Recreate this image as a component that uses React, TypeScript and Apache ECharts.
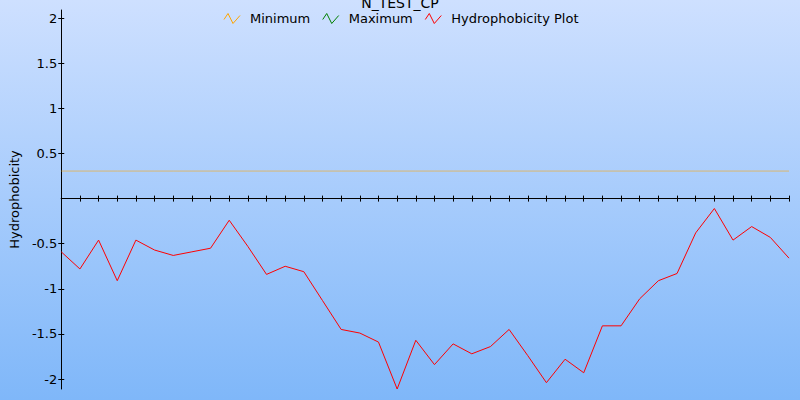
import React, { useEffect, useRef } from "react";
import * as echarts from "echarts";

const titleText = "N_TEST_CP";
const yAxisName = "Hydrophobicity";
const seriesNames = ["Minimum", "Maximum", "Hydrophobicity Plot"];
const seriesColors = ["#FFA500", "#008000", "#FF0000"];
const positions = [
  "1", "2", "3", "4", "5", "6", "7", "8", "9", "10",
  "11", "12", "13", "14", "15", "16", "17", "18", "19", "20",
  "21", "22", "23", "24", "25", "26", "27", "28", "29", "30",
  "31", "32", "33", "34", "35", "36", "37", "38", "39", "40",
];
const hydrophobicity = [
  -0.59, -0.78, -0.46, -0.91, -0.46, -0.57, -0.63, -0.59, -0.55, -0.24,
  -0.53, -0.84, -0.75, -0.81, -1.13, -1.45, -1.49, -1.59, -2.11, -1.57,
  -1.84, -1.61, -1.72, -1.64, -1.45, -1.74, -2.04, -1.78, -1.93, -1.41,
  -1.41, -1.11, -0.91, -0.83, -0.38, -0.11, -0.46, -0.31, -0.43, -0.66,
];
const minimumValue = 0.305;
const maximumValues: number[] = [];
const yTickValues = [-2, -1.5, -1, -0.5, 0.5, 1, 1.5, 2];
const yMin = -2.11;
const yMax = 2.09;

const FONT = "DejaVu Sans";
const ICON = "path://M0,6 L4,0 L9,10 L16,2 M21,5";

export default function App() {
  const ref = useRef<HTMLDivElement>(null);
  useEffect(() => {
    if (!ref.current) return;
    const chart = echarts.init(ref.current, null, { renderer: "svg" });
    const minimumData = positions.map(() => minimumValue);
    const axisLineStyle = { color: "#000", width: 1 };
    chart.setOption({
      animation: false,
      backgroundColor: {
        type: "linear",
        x: 0,
        y: 0,
        x2: 0,
        y2: 1,
        colorStops: [
          { offset: 0, color: "#CEE0FF" },
          { offset: 1, color: "#7FB7F9" },
        ],
      },
      title: {
        text: titleText,
        left: "center",
        top: -4,
        padding: 0,
        textStyle: { fontFamily: FONT, fontSize: 14, fontWeight: "normal", color: "#000" },
      },
      legend: {
        top: 11,
        left: "center",
        padding: 0,
        itemGap: 10,
        itemWidth: 21,
        itemHeight: 10,
        textStyle: { fontFamily: FONT, fontSize: 13, color: "#000" },
        data: seriesNames.map((name, i) => ({
          name,
          icon: ICON,
          itemStyle: { color: "none", borderColor: seriesColors[i], borderWidth: 1 },
        })),
      },
      grid: { left: 59, right: 11, top: 10, bottom: 11, containLabel: false },
      xAxis: [
        {
          type: "category",
          data: positions,
          boundaryGap: false,
          position: "bottom",
          axisLine: { show: true, onZero: true, onZeroAxisIndex: 0, lineStyle: axisLineStyle },
          axisTick: { show: true, interval: 0, length: 3, lineStyle: axisLineStyle },
          axisLabel: { show: false },
          splitLine: { show: false },
        },
        {
          type: "category",
          data: positions,
          boundaryGap: false,
          position: "top",
          axisLine: { show: true, onZero: true, onZeroAxisIndex: 0, lineStyle: axisLineStyle },
          axisTick: { show: true, interval: 0, length: 3, lineStyle: axisLineStyle },
          axisLabel: { show: false },
          splitLine: { show: false },
        },
      ],
      yAxis: [
        {
          type: "value",
          min: yMin,
          max: yMax,
          position: "left",
          name: yAxisName,
          nameLocation: "middle",
          nameGap: 38,
          nameTextStyle: { fontFamily: FONT, fontSize: 13, color: "#000" },
          axisLine: { show: true, onZero: false, lineStyle: axisLineStyle },
          axisTick: { show: true, length: 3, customValues: yTickValues, lineStyle: axisLineStyle },
          axisLabel: {
            show: true,
            customValues: yTickValues,
            margin: 4,
            fontFamily: FONT,
            fontSize: 13,
            color: "#000",
          },
          splitLine: { show: false },
        },
        {
          type: "value",
          min: yMin,
          max: yMax,
          position: "left",
          axisLine: { show: false, onZero: false },
          axisTick: { show: true, inside: true, length: 3, customValues: yTickValues, lineStyle: axisLineStyle },
          axisLabel: { show: false },
          splitLine: { show: false },
        },
      ],
      series: [
        {
          name: seriesNames[0],
          type: "line",
          data: minimumData,
          showSymbol: false,
          symbol: "none",
          color: seriesColors[0],
          lineStyle: { width: 1, color: seriesColors[0], opacity: 0.55 },
        },
        {
          name: seriesNames[1],
          type: "line",
          data: maximumValues,
          showSymbol: false,
          symbol: "none",
          color: seriesColors[1],
          lineStyle: { width: 1, color: seriesColors[1] },
        },
        {
          name: seriesNames[2],
          type: "line",
          data: hydrophobicity,
          showSymbol: false,
          symbol: "none",
          color: seriesColors[2],
          lineStyle: { width: 1, color: seriesColors[2] },
        },
      ],
    });
    return () => chart.dispose();
  }, []);
  return (
    <div
      ref={ref}
      style={{ position: "fixed", left: 0, top: 0, width: 800, height: 400 }}
    />
  );
}
